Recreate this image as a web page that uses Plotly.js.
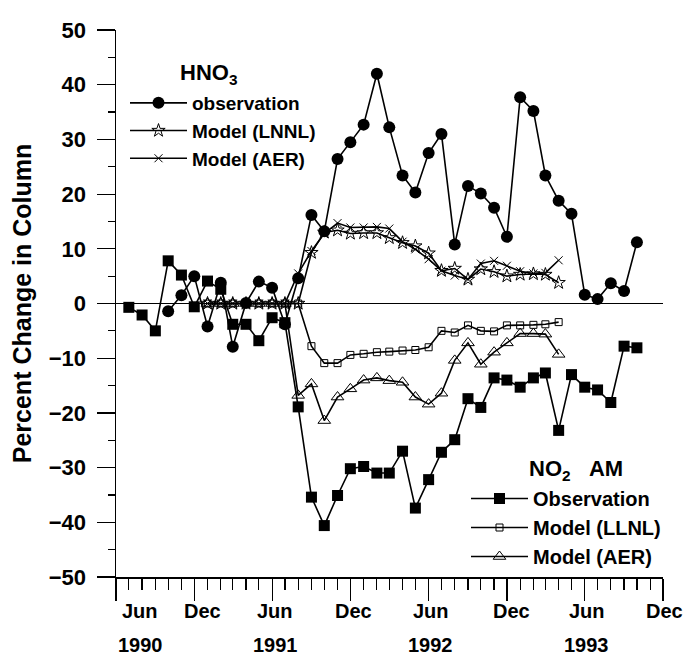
<!DOCTYPE html>
<html>
<head>
<meta charset="utf-8">
<script src="https://cdn.plot.ly/plotly-3.0.1.min.js"></script>
<style>html,body{margin:0;padding:0;background:#fff;} #chart{width:687px;height:656px;}</style>
</head>
<body>
<div id="chart"></div>
<script>
// ---- data ----
var monthsObsNO2 = ['1990-07-01','1990-08-01','1990-09-01','1990-10-01','1990-11-01','1990-12-01',
  '1991-01-01','1991-02-01','1991-03-01','1991-04-01','1991-05-01','1991-06-01','1991-07-01','1991-08-01','1991-09-01','1991-10-01','1991-11-01','1991-12-01',
  '1992-01-01','1992-02-01','1992-03-01','1992-04-01','1992-05-01','1992-06-01','1992-07-01','1992-08-01','1992-09-01','1992-10-01','1992-11-01','1992-12-01',
  '1993-01-01','1993-02-01','1993-03-01','1993-04-01','1993-05-01','1993-06-01','1993-07-01','1993-08-01','1993-09-01','1993-10-01'];
var no2Obs = [-0.7,-2.1,-5.0,7.8,5.2,-0.6,
  4.1,2.6,-3.8,-3.8,-6.8,-2.6,-3.5,-18.9,-35.4,-40.6,-35.1,-30.2,
  -29.8,-31.0,-31.0,-27.0,-37.4,-32.2,-27.2,-24.9,-17.4,-19.0,-13.6,-14.0,
  -15.3,-13.6,-12.7,-23.2,-13.0,-15.3,-15.8,-18.1,-7.8,-8.1];

var monthsObsHNO3 = ['1990-10-01','1990-11-01','1990-12-01',
  '1991-01-01','1991-02-01','1991-03-01','1991-04-01','1991-05-01','1991-06-01','1991-07-01','1991-08-01','1991-09-01','1991-10-01','1991-11-01','1991-12-01',
  '1992-01-01','1992-02-01','1992-03-01','1992-04-01','1992-05-01','1992-06-01','1992-07-01','1992-08-01','1992-09-01','1992-10-01','1992-11-01','1992-12-01',
  '1993-01-01','1993-02-01','1993-03-01','1993-04-01','1993-05-01','1993-06-01','1993-07-01','1993-08-01','1993-09-01','1993-10-01'];
var hno3Obs = [-1.4,1.5,5.0,
  -4.2,3.8,-7.9,0.1,4.0,2.9,-3.8,4.6,16.2,13.2,26.4,29.5,
  32.7,42.0,32.2,23.4,20.3,27.5,31.0,10.8,21.5,20.1,17.5,12.2,
  37.7,35.2,23.4,18.8,16.4,1.6,0.8,3.7,2.3,11.2];

var monthsModel = ['1991-01-01','1991-02-01','1991-03-01','1991-04-01','1991-05-01','1991-06-01','1991-07-01','1991-08-01','1991-09-01','1991-10-01','1991-11-01','1991-12-01',
  '1992-01-01','1992-02-01','1992-03-01','1992-04-01','1992-05-01','1992-06-01','1992-07-01','1992-08-01','1992-09-01','1992-10-01','1992-11-01','1992-12-01',
  '1993-01-01','1993-02-01','1993-03-01','1993-04-01'];
var hno3LLNL = [0,0,0,0,0,0,0,0,9.3,13.0,13.4,12.8,
  12.9,12.9,12.0,11.1,10.5,9.2,6.0,6.4,4.4,6.3,5.8,5.0,
  5.3,5.4,5.3,3.8];
var hno3AER = [0,0,0,0,0,0,0,5.5,9.6,12.8,14.7,13.9,
  13.9,14.0,13.7,11.3,9.9,8.1,6.0,5.1,4.4,7.3,7.8,6.9,
  5.9,5.5,5.6,7.9];
var no2LLNL = [0,0,0,0,0,0,0,0,-7.8,-10.9,-10.9,-9.4,
  -9.2,-8.9,-8.8,-8.6,-8.5,-8.0,-5.0,-5.3,-4.0,-5.0,-5.1,-4.0,
  -4.0,-3.9,-3.8,-3.4];
var no2AER = [0,0,0,0,0,0,0,-16.8,-14.7,-21.4,-17.1,-15.6,
  -14.0,-13.6,-14.1,-14.4,-17.1,-18.4,-16.4,-10.4,-7.2,-11.1,-8.9,-7.2,
  -5.5,-5.5,-5.6,-9.3];

var tickMonths = ['1990-06-01','1990-12-01','1991-06-01','1991-12-01','1992-06-01','1992-12-01','1993-06-01','1993-12-01'];
var tickMonthText = ['Jun','Dec','Jun','Dec','Jun','Dec','Jun','Dec'];
var tickYearText = ['1990','','1991','','1992','','1993',''];
var yTickVals = [-50,-40,-30,-20,-10,0,10,20,30,40,50];

// ---- styles ----
var labelShift = [24,8,3,3,2,5,2,1];
var FONT = 'Liberation Sans, Arial, Helvetica, sans-serif';
var black = '#000';

function tr(name, x, y, marker, legend) {
  return {type:'scatter', mode:'lines+markers', name:name, x:x, y:y,
    line:{color:black, width:1.6}, marker:marker, legend:legend, xaxis:'x', yaxis:'y', cliponaxis:false};
}

var data = [
  tr('observation', monthsObsHNO3, hno3Obs, {symbol:'circle', size:12, color:black}, 'legend'),
  tr('Model (LNNL)', monthsModel, hno3LLNL, {symbol:'star-open', size:10, color:black, line:{width:1, color:black}}, 'legend'),
  tr('Model (AER)', monthsModel, hno3AER, {symbol:'x-thin-open', size:8, color:black, line:{width:1, color:black}}, 'legend'),
  tr('Observation', monthsObsNO2, no2Obs, {symbol:'square', size:11, color:black}, 'legend2'),
  tr('Model (LLNL)', monthsModel, no2LLNL, {symbol:'square-open', size:7, color:black, line:{width:1, color:black}}, 'legend2'),
  tr('Model (AER)', monthsModel, no2AER, {symbol:'triangle-up-open', size:11, color:black, line:{width:1, color:black}}, 'legend2')
];

var annotations = [];
for (var i = 0; i < tickMonths.length; i++) {
  annotations.push({xref:'x', yref:'paper', x:tickMonths[i], y:0, yshift:-34, xshift:labelShift[i],
    text:'<b>' + tickMonthText[i] + '</b>', showarrow:false, xanchor:'center', yanchor:'middle',
    font:{family:FONT, size:20, color:black}});
  if (tickYearText[i]) annotations.push({xref:'x', yref:'paper', x:tickMonths[i], y:0, yshift:-68, xshift:labelShift[i],
    text:'<b>' + tickYearText[i] + '</b>', showarrow:false, xanchor:'center', yanchor:'middle',
    font:{family:FONT, size:20, color:black}});
}
annotations.push({xref:'paper', yref:'paper', x:(178-116)/547, y:(577-58)/547, xanchor:'left', yanchor:'top',
  text:'<b>HNO<sub>3</sub></b>', showarrow:false, font:{family:FONT, size:22, color:black}});
annotations.push({xref:'paper', yref:'paper', x:(527-116)/547, y:(577-454)/547, xanchor:'left', yanchor:'top',
  text:'<b>NO<sub>2</sub>\u00a0\u00a0\u00a0AM</b>', showarrow:false, font:{family:FONT, size:22, color:black}});

var layout = {
  width:687, height:656,
  margin:{l:116, r:24, t:30, b:79, pad:0},
  paper_bgcolor:'#fff', plot_bgcolor:'#fff',
  font:{family:FONT, color:black},
  showlegend:true,
  xaxis:{type:'date', range:['1990-06-01','1993-12-01'], tick0:'1990-06-01', dtick:'M6',
    ticks:'outside', ticklen:22, tickwidth:1.2, tickcolor:black, showticklabels:false,
    showline:true, linecolor:black, linewidth:1.5, showgrid:false, zeroline:false,
    minor:{tick0:'1990-06-01', dtick:'M1', ticks:'outside', ticklen:11, tickwidth:1.2, tickcolor:black, showgrid:false}},
  xaxis2:{type:'date', overlaying:'x', side:'top', anchor:'y', range:['1990-06-01','1993-12-01'], tick0:'1990-06-01', dtick:'M6',
    ticks:'outside', ticklen:17, tickwidth:1.2, tickcolor:black, showticklabels:false,
    showline:true, linecolor:black, linewidth:1.5, showgrid:false, zeroline:false,
    minor:{tick0:'1990-06-01', dtick:'M1', ticks:'outside', ticklen:8, tickwidth:1.2, tickcolor:black, showgrid:false}},
  yaxis:{range:[-50,50], tickmode:'array', tickvals:yTickVals, ticks:'outside', ticklen:18, tickwidth:1.2, tickcolor:black,
    tickfont:{family:FONT, size:22, weight:700, color:black}, ticklabelstandoff:6,
    showline:true, linecolor:black, linewidth:1.5, showgrid:false,
    zeroline:true, zerolinecolor:black, zerolinewidth:1.5,
    minor:{dtick:5, ticks:'outside', ticklen:7, tickwidth:1.2, tickcolor:black, showgrid:false},
    title:{text:'<b>Percent Change in Column</b>', font:{family:FONT, size:25, color:black}, standoff:10}},
  yaxis2:{overlaying:'y', side:'right', anchor:'x', range:[-50,50], dtick:5, ticks:'outside', ticklen:10, tickwidth:1.2, tickcolor:black,
    showticklabels:false, showline:true, linecolor:black, linewidth:1.5, showgrid:false, zeroline:false},
  legend:{x:(125-116)/547, y:(577-84)/547, xanchor:'left', yanchor:'top', bgcolor:'rgba(0,0,0,0)',
    font:{family:FONT, size:19, weight:700, color:black}, itemwidth:57, tracegroupgap:0, traceorder:'normal'},
  legend2:{x:(466-116)/547, y:(577-479)/547, xanchor:'left', yanchor:'top', bgcolor:'rgba(0,0,0,0)',
    font:{family:FONT, size:20, weight:700, color:black}, itemwidth:57, tracegroupgap:0, traceorder:'normal'},
  annotations:annotations
};

Plotly.newPlot('chart', data, layout, {displayModeBar:false, staticPlot:true});
</script>
</body>
</html>
